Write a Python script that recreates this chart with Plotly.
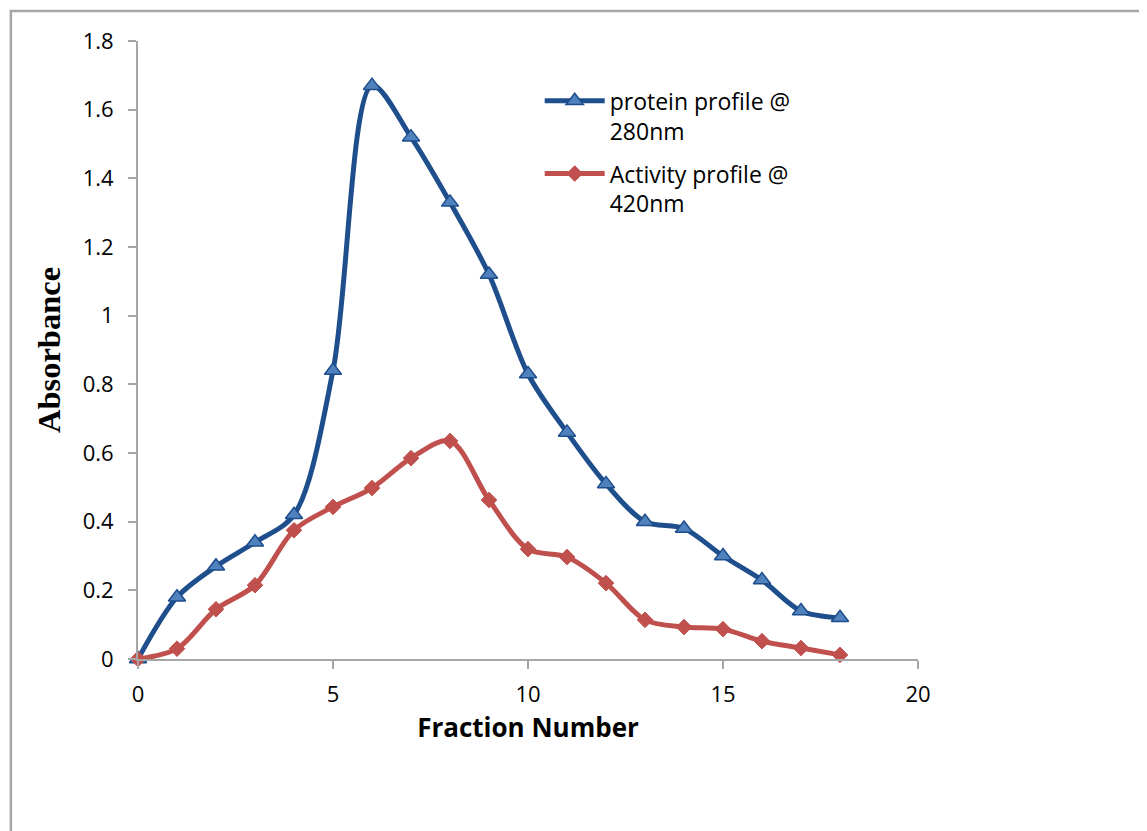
import plotly.graph_objects as go

fractions = list(range(0, 19))
protein_280 = [0, 0.18, 0.27, 0.34, 0.42, 0.84, 1.67, 1.52, 1.33, 1.12, 0.83,
               0.66, 0.51, 0.40, 0.38, 0.30, 0.23, 0.14, 0.12]
activity_420 = [0, 0.03, 0.145, 0.215, 0.375, 0.443, 0.498, 0.585, 0.635, 0.463,
                0.32, 0.297, 0.221, 0.114, 0.093, 0.087, 0.052, 0.032, 0.012]

sans = "Open Sans, Noto Sans, sans-serif"

fig = go.Figure()

# protein profile
fig.add_trace(go.Scatter(
    x=fractions, y=protein_280, name="protein profile @<br>280nm", legendgroup="protein",
    mode="lines+markers", line=dict(color="#1f4e8c", width=5, shape="spline", smoothing=0.9),
    marker=dict(symbol="triangle-up", size=15, color="#4f81bd",
                line=dict(color="#1f4e8c", width=1.5)),
    cliponaxis=False,
))
# activity profile
fig.add_trace(go.Scatter(
    x=fractions, y=activity_420, name="Activity profile @<br>420nm", legendgroup="activity",
    mode="lines+markers", line=dict(color="#c0504d", width=5, shape="spline", smoothing=0.9),
    marker=dict(symbol="diamond", size=12, color="#c0504d",
                line=dict(color="#c0504d", width=1)),
    cliponaxis=False,
))

# outer chart border
fig.add_shape(type="rect", xref="paper", yref="paper",
              x0=-0.163, x1=1.285, y0=-0.3, y1=1.0485,
              line=dict(color="#a6a6a6", width=2.5), layer="below")

# page body has an 8px margin, so the figure is offset by 8px
fig.update_layout(
    width=1139, height=823,
    margin=dict(l=130, r=229, t=33, b=172),
    plot_bgcolor="white", paper_bgcolor="white",
    font=dict(family=sans, size=22, color="black"),
    legend=dict(x=0.515, y=0.938, xanchor="left", yanchor="top", valign="top",
                font=dict(family=sans, size=23), itemwidth=60, tracegroupgap=10,
                bgcolor="rgba(0,0,0,0)"),
    xaxis=dict(
        range=[0, 20], tick0=0, dtick=5, showgrid=False, zeroline=False,
        showline=True, linecolor="#a6a6a6", linewidth=2,
        ticks="outside", ticklen=8, tickcolor="#a6a6a6", tickwidth=2,
        tickfont=dict(family=sans, size=22), ticklabelstandoff=7,
        title=dict(text="<b>Fraction Number</b>",
                   font=dict(family=sans, size=26), standoff=11),
    ),
    yaxis=dict(
        range=[0, 1.8], dtick=0.2, showgrid=False, zeroline=False,
        showline=True, linecolor="#a6a6a6", linewidth=2,
        ticks="outside", ticklen=8, tickcolor="#a6a6a6", tickwidth=2,
        tickformat="~g", tickfont=dict(family=sans, size=22), ticklabelstandoff=10,
        title=dict(text="<b>Absorbance</b>",
                   font=dict(family="Liberation Serif, Times New Roman, serif", size=32.5),
                   standoff=12),
    ),
)

fig.write_html("out.html")
